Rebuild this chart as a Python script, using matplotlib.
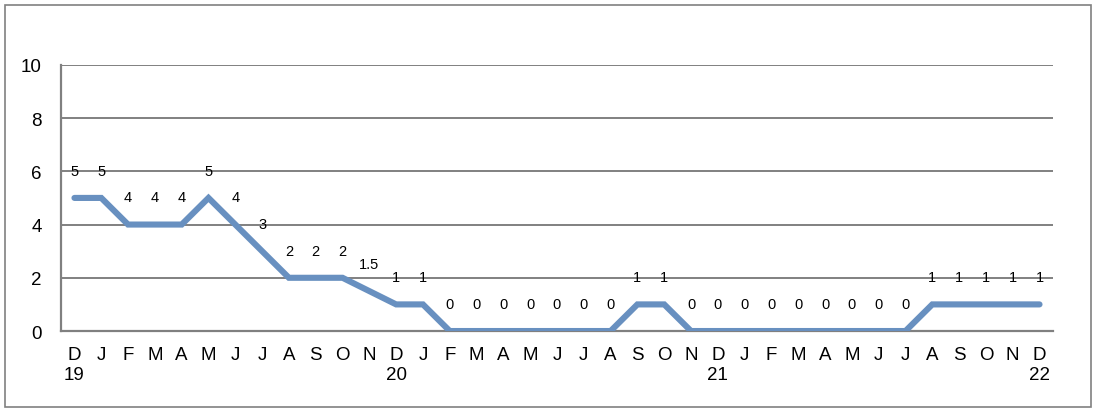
import matplotlib.pyplot as plt
from matplotlib.patches import Rectangle

plt.rcParams['font.family'] = ['Liberation Sans', 'DejaVu Sans']

months = ['D', 'J', 'F', 'M', 'A', 'M', 'J', 'J', 'A', 'S', 'O', 'N',
          'D', 'J', 'F', 'M', 'A', 'M', 'J', 'J', 'A', 'S', 'O', 'N',
          'D', 'J', 'F', 'M', 'A', 'M', 'J', 'J', 'A', 'S', 'O', 'N', 'D']
years = {0: '19', 12: '20', 24: '21', 36: '22'}
values = [5, 5, 4, 4, 4, 5, 4, 3, 2, 2, 2, 1.5,
          1, 1, 0, 0, 0, 0, 0, 0, 0, 1, 1, 0,
          0, 0, 0, 0, 0, 0, 0, 0, 1, 1, 1, 1, 1]

labels = [m + ('\n' + years[i] if i in years else '') for i, m in enumerate(months)]
x = list(range(len(values)))

fig = plt.figure(figsize=(10.96, 4.14), dpi=100)
ax = fig.add_axes([0.0557, 0.198, 0.905, 0.643])

ax.plot(x, values, color='#6890C0', lw=4.4, solid_capstyle='round', solid_joinstyle='miter', zorder=3)
for xi, v in zip(x, values):
    txt = '%g' % v
    ax.annotate(txt, (xi, v), xytext=(0, 19.5), textcoords='offset points',
                ha='center', va='center', fontsize=10.5, zorder=4)

ax.set_xlim(-0.5, len(values) - 0.5)
ax.set_ylim(0, 10)
ax.set_yticks([0, 2, 4, 6, 8, 10])
ax.yaxis.grid(True, color='#808080', lw=1.4)
ax.set_axisbelow(True)
ax.set_xticks(x)
ax.set_xticklabels(labels, fontsize=13.5, linespacing=1.2, va='top')
ax.tick_params(axis='x', length=0, pad=11)
ax.tick_params(axis='y', length=0, pad=14, labelsize=13.5)
for s in ['top', 'right']:
    ax.spines[s].set_visible(False)
for s in ['left', 'bottom']:
    ax.spines[s].set_color('#808080')
    ax.spines[s].set_linewidth(1.6)

fig.patches.append(Rectangle((0.005, 0.014), 0.99, 0.972, transform=fig.transFigure,
                             fill=False, edgecolor='#808080', lw=1.2))

fig.savefig('out.png', dpi=100)
